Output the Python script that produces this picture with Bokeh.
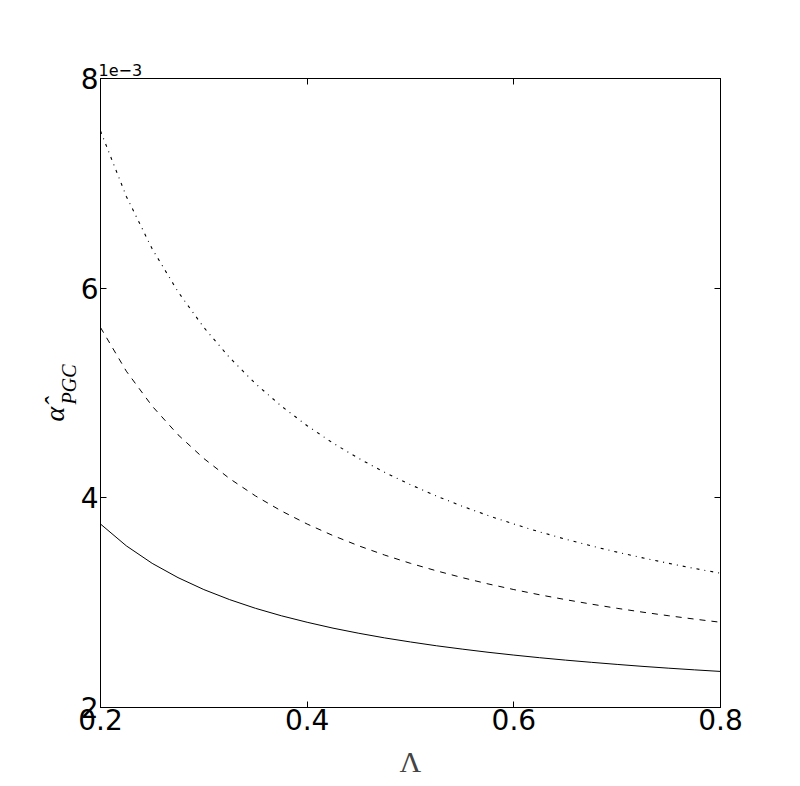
from bokeh.plotting import figure
from bokeh.models import ColumnDataSource, FixedTicker, LinearAxis, Range1d, Title
from bokeh.embed import file_html
from bokeh.resources import INLINE

# Data (alpha values in units of 1e-3)
lam = [0.2, 0.225, 0.25, 0.275, 0.3, 0.325, 0.35, 0.375, 0.4, 0.425, 0.45, 0.475, 0.5,
       0.525, 0.55, 0.575, 0.6, 0.625, 0.65, 0.675, 0.7, 0.725, 0.75, 0.775, 0.8]
alpha_solid = [3.750, 3.542, 3.375, 3.239, 3.125, 3.029, 2.946, 2.875, 2.813, 2.757, 2.708,
               2.664, 2.625, 2.589, 2.557, 2.527, 2.500, 2.475, 2.452, 2.431, 2.411, 2.392,
               2.375, 2.359, 2.344]
alpha_dashed = [5.625, 5.208, 4.875, 4.602, 4.375, 4.183, 4.018, 3.875, 3.750, 3.640, 3.542,
                3.454, 3.375, 3.304, 3.239, 3.179, 3.125, 3.075, 3.029, 2.986, 2.946, 2.909,
                2.875, 2.843, 2.813]
alpha_dashdot = [7.500, 6.875, 6.375, 5.966, 5.625, 5.337, 5.089, 4.875, 4.688, 4.522, 4.375,
                 4.243, 4.125, 4.018, 3.920, 3.831, 3.750, 3.675, 3.606, 3.541, 3.482, 3.427,
                 3.375, 3.326, 3.281]
x_ticks = [0.2, 0.4, 0.6, 0.8]
y_ticks = [2, 4, 6, 8]

src = ColumnDataSource(dict(lam=lam, s=alpha_solid, d=alpha_dashed, dd=alpha_dashdot))

W, H = 800, 786
left, top, fw, fh = 100, 78, 620, 629
p = figure(width=W, height=H, output_backend="svg", toolbar_location=None,
           x_range=Range1d(0.2, 0.8), y_range=Range1d(2, 8),
           min_border_left=left, min_border_right=W - left - fw,
           min_border_top=top, min_border_bottom=H - top - fh,
           x_axis_location=None, y_axis_location=None)
p.grid.visible = False
p.outline_line_color = "black"
p.outline_line_width = 1
p.background_fill_color = "white"
p.border_fill_color = "white"

p.line("lam", "s", source=src, line_color="black", line_width=1)
p.line("lam", "d", source=src, line_color="black", line_width=1, line_dash="6 6")
p.line("lam", "dd", source=src, line_color="black", line_width=1.1, line_dash="3 5 1 5")

def style(ax, show_labels, ticks):
    ax.ticker = FixedTicker(ticks=ticks)
    ax.minor_tick_line_color = None
    ax.major_tick_in = 6
    ax.major_tick_out = 0
    ax.axis_line_color = "black"
    ax.major_tick_line_color = "black"
    ax.major_label_text_font = "DejaVu Sans"
    ax.major_label_text_color = "black"
    ax.major_label_text_font_size = "28px"
    if not show_labels:
        ax.major_label_overrides = {t: "" for t in ticks}
        ax.major_label_text_font_size = "1px"
        ax.major_label_standoff = 0

xb = LinearAxis()
style(xb, True, x_ticks)
xb.major_label_standoff = 1
xb.axis_label = "Λ"
xb.axis_label_text_font = "Liberation Serif"
xb.axis_label_text_font_style = "normal"
xb.axis_label_text_font_size = "30px"
xb.axis_label_standoff = 12
p.add_layout(xb, "below")

yl = LinearAxis()
style(yl, True, y_ticks)
yl.major_label_standoff = 2
p.add_layout(yl, "left")

# y-axis label: alpha-hat with subscript PGC, as side titles (read bottom to top)
t_pgc = Title(text="PGC", align="left", vertical_align="bottom", offset=303, standoff=-5,
              text_font="Liberation Serif", text_font_style="italic",
              text_font_size="20px", text_color="black")
t_alpha = Title(text="α̂", align="left", vertical_align="bottom", offset=286, standoff=-22,
                text_font="Liberation Serif", text_font_style="italic",
                text_font_size="28px", text_color="black")
p.add_layout(t_pgc, "left")
p.add_layout(t_alpha, "left")

xa = LinearAxis()
style(xa, False, x_ticks)
p.add_layout(xa, "above")
yr = LinearAxis()
style(yr, False, y_ticks)
p.add_layout(yr, "right")

# scale offset text above the top-left corner
t_exp = Title(text="1e−3", align="left", vertical_align="bottom", offset=-2, standoff=6,
              text_font="DejaVu Sans", text_font_style="normal",
              text_font_size="16px", text_color="black")
p.add_layout(t_exp, "above")

open("out.html", "w").write(file_html(p, INLINE))
